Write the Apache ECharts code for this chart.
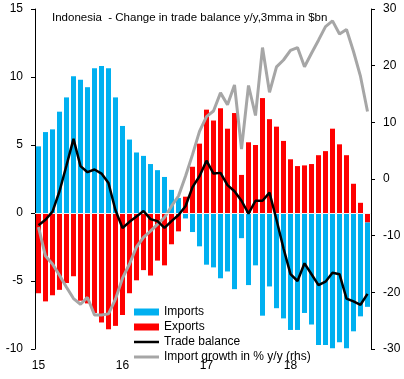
<!DOCTYPE html>
<html>
<head>
<meta charset="utf-8">
<script src="https://cdn.jsdelivr.net/npm/echarts@6/dist/echarts.min.js"></script>
<style>
html,body{margin:0;padding:0;background:#fff;}
#chart{width:404px;height:379px;}
</style>
</head>
<body>
<div id="chart"></div>
<script>
const months = [
  '15-01','15-02','15-03','15-04','15-05','15-06','15-07','15-08','15-09','15-10','15-11','15-12',
  '16-01','16-02','16-03','16-04','16-05','16-06','16-07','16-08','16-09','16-10','16-11','16-12',
  '17-01','17-02','17-03','17-04','17-05','17-06','17-07','17-08','17-09','17-10','17-11','17-12',
  '18-01','18-02','18-03','18-04','18-05','18-06','18-07','18-08','18-09','18-10','18-11','18-12'
];
const yearTickLabels = ['15','16','17','18'];
const leftTicks = [-10, 15, 5];   // min, max, interval
const rightTicks = [-30, 30, 10];

const imports = [
  4.9, 5.95, 6.15, 7.45, 8.5, 10.05, 9.8, 9.25, 10.65, 10.8, 10.65, 8.5,
  6.4, 5.4, 4.45, 4.2, 3.6, 3.15, 2.65, 1.7, 1.1, -0.4, -1.4, -2.45,
  -3.8, -4.0, -4.8, -4.3, -5.6, -1.85, -5.3, -3.85, -7.55, -5.4, -7.0, -7.75,
  -8.6, -8.6, -7.35, -8.2, -9.7, -9.7, -9.95, -9.5, -9.95, -8.7, -7.6, -6.2
];
const exportsVals = [
  -5.9, -6.5, -6.05, -5.65, -5.15, -4.65, -6.45, -6.65, -7.35, -8.05, -8.55, -8.3,
  -7.5, -5.9, -4.95, -4.2, -4.6, -3.5, -3.85, -2.3, -1.35, 1.2, 3.4, 5.1,
  7.6, 6.8, 7.7, 6.2, 7.35, 2.8, 5.2, 5.0, 8.45, 6.9, 6.35, 5.3,
  3.95, 3.45, 3.5, 3.6, 4.25, 4.55, 6.2, 5.05, 4.25, 2.15, 0.75, -0.7
];
const tradeBalance = [
  -0.9, -0.5, 0.1, 1.6, 3.5, 5.45, 3.45, 3.0, 3.2, 2.9, 2.2, 0.2,
  -1.1, -0.65, -0.25, 0.15, -0.45, -0.6, -1.1, -0.6, -0.15, 0.5, 1.9, 2.7,
  3.85, 2.9, 2.95, 2.05, 1.6, 0.9, -0.05, 0.9, 0.9, 1.5, -0.5, -2.6,
  -4.5, -5.0, -3.7, -4.5, -5.3, -5.05, -4.4, -4.5, -6.3, -6.5, -6.75, -5.95
];
const importGrowth = [
  -8.5, -13.6, -15.0, -17.0, -19.1, -21.1, -22.1, -20.9, -24.0, -24.0, -23.8, -21.2,
  -17.5, -15.0, -12.0, -10.3, -9.2, -8.0, -6.8, -4.8, -3.0, 0.5, 4.3, 8.4,
  11.0, 12.0, 15.2, 13.1, 16.6, 5.3, 16.5, 11.2, 23.2, 15.3, 19.8, 21.0,
  22.7, 23.2, 19.8, 22.2, 24.5, 26.9, 27.9, 25.6, 26.4, 22.5, 18.1, 11.9
];

const FONT = 'Liberation Sans';
const chart = echarts.init(document.getElementById('chart'), null, {renderer: 'canvas'});
chart.setOption({
  animation: false,
  backgroundColor: '#ffffff',
  textStyle: {fontFamily: FONT},
  title: {
    text: 'Indonesia  - Change in trade balance y/y,3mma in $bn',
    left: 47, top: 7,
    textStyle: {fontFamily: FONT, fontSize: 11.5, fontWeight: 'normal', color: '#000'}
  },
  grid: {left: 35, right: 33, top: 9, bottom: 30},
  legend: {
    orient: 'vertical', left: 129, top: 301,
    itemWidth: 25, itemHeight: 7, itemGap: 3,
    symbolKeepAspect: true,
    textStyle: {fontFamily: FONT, fontSize: 12, color: '#000'},
    data: [
      {name: 'Imports', icon: 'rect'},
      {name: 'Exports', icon: 'rect'},
      {name: 'Trade balance', icon: 'path://M0,0 L100,0 L100,10 L0,10 Z'},
      {name: 'Import growth in % y/y (rhs)', icon: 'path://M0,0 L100,0 L100,12 L0,12 Z'}
    ]
  },
  xAxis: {
    type: 'category', data: months, boundaryGap: true,
    axisLine: {show: false, onZero: false}, axisTick: {show: false},
    axisLabel: {
      interval: function (i) { return i % 12 === 0; },
      formatter: function (v, i) { return yearTickLabels[Math.floor(i / 12)]; },
      margin: 11, fontSize: 12, color: '#000', fontFamily: FONT
    },
    splitLine: {show: false}
  },
  yAxis: [
    {
      type: 'value', min: leftTicks[0], max: leftTicks[1], interval: leftTicks[2], position: 'left',
      axisLine: {show: true, lineStyle: {color: '#000', width: 1}},
      axisTick: {show: true, length: 4, lineStyle: {color: '#000'}},
      axisLabel: {fontSize: 12, color: '#000', margin: 12, fontFamily: FONT},
      splitLine: {show: false}
    },
    {
      type: 'value', min: rightTicks[0], max: rightTicks[1], interval: rightTicks[2], position: 'right',
      axisLine: {show: true, lineStyle: {color: '#000', width: 1}},
      axisTick: {show: true, length: 4, lineStyle: {color: '#000'}},
      axisLabel: {fontSize: 12, color: '#000', margin: 12, fontFamily: FONT},
      splitLine: {show: false}
    }
  ],
  series: [
    {
      name: 'Exports', type: 'bar', stack: 'trade', data: exportsVals,
      barWidth: 5, itemStyle: {color: '#ff0000'}, yAxisIndex: 0, z: 2
    },
    {
      name: 'Imports', type: 'bar', stack: 'trade', data: imports,
      barWidth: 5, itemStyle: {color: '#00b0f0'}, yAxisIndex: 0, z: 2,
      markLine: {
        silent: true, symbol: 'none', label: {show: false},
        lineStyle: {color: '#f2f2f2', width: 1, type: 'solid'},
        data: [{yAxis: 0}]
      }
    },
    {
      name: 'Import growth in % y/y (rhs)', type: 'line', data: importGrowth, yAxisIndex: 1,
      symbol: 'none', showSymbol: false, lineStyle: {color: '#a6a6a6', width: 3},
      itemStyle: {color: '#a6a6a6'}, z: 4
    },
    {
      name: 'Trade balance', type: 'line', data: tradeBalance, yAxisIndex: 0,
      symbol: 'none', showSymbol: false, lineStyle: {color: '#000000', width: 2.5},
      itemStyle: {color: '#000000'}, z: 5
    }
  ]
});
</script>
</body>
</html>
